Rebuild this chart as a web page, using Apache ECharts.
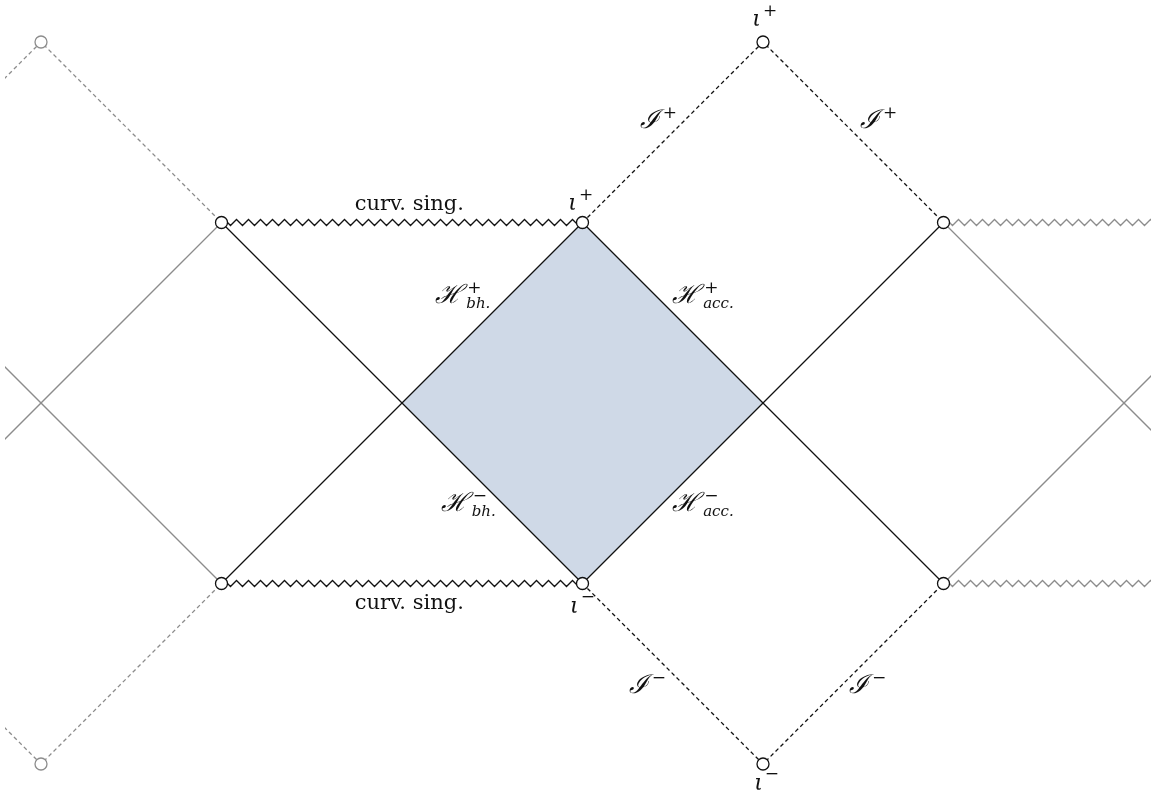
<!DOCTYPE html>
<html>
<head>
<meta charset="utf-8">
<script src="https://cdn.jsdelivr.net/npm/echarts@6/dist/echarts.min.js"></script>
<style>
  html, body { margin: 0; background: #fff; }
  #chart { width: 1151px; height: 793px; }
</style>
</head>
<body>
<div id="chart"></div>
<script>
// diagram coordinates: one unit = one null step, x to the right, y up
const greySolid = [[[1, 1], [-1, -1]], [[1, -1], [-1, 1]], [[5, 1], [7, -1]], [[5, -1], [7, 1]]]
const greyDashed = [[[-1, 1], [0, 2], [1, 1]], [[-1, -1], [0, -2], [1, -1]]]
const blackSolid = [[[1, 1], [3, -1]], [[1, -1], [3, 1]], [[5, 1], [3, -1]], [[5, -1], [3, 1]]]
const blackDashed = [[[3, 1], [4, 2], [5, 1]], [[3, -1], [4, -2], [5, -1]]]
const singBlack = [[1, 1, 3, 1], [1, -1, 3, -1]]
const singGrey = [[5, 1, 7, 1], [5, -1, 7, -1]]
const region = [[2, 0], [3, 1], [4, 0], [3, -1]]
const pointsBlack = [[1, 1], [1, -1], [3, 1], [3, -1], [4, 2], [4, -2], [5, 1], [5, -1]]
const pointsGrey = [[0, 2], [0, -2]]

// labels: x, y (centre), symbol, superscript, subscript
const labels = [
  [2.04, 1.10, 'curv. sing.', '', ''],
  [2.04, -1.11, 'curv. sing.', '', ''],
  [4.01, 2.12, 'ι', '+', ''],
  [2.99, 1.10, 'ι', '+', ''],
  [3.42, 1.56, 'ℐ', '+', ''],
  [4.64, 1.56, 'ℐ', '+', ''],
  [2.34, 0.59, 'ℋ', '+', 'bh.'],
  [3.67, 0.59, 'ℋ', '+', 'acc.'],
  [2.37, -0.56, 'ℋ', '−', 'bh.'],
  [3.67, -0.56, 'ℋ', '−', 'acc.'],
  [3.0, -1.13, 'ι', '−', ''],
  [3.36, -1.57, 'ℐ', '−', ''],
  [4.58, -1.57, 'ℐ', '−', ''],
  [4.02, -2.11, 'ι', '−', '']
]

const GREY = '#8c8c8c'
const BLACK = '#111'
const SERIF = '"DejaVu Serif", "Liberation Serif", serif'

const ctx = document.createElement('canvas').getContext('2d')
const textWidth = (text, font) => { ctx.font = font; return ctx.measureText(text).width }

const lineSeries = (paths, color, dashed) => paths.map(p => ({
  type: 'line',
  data: p,
  symbol: 'none',
  silent: true,
  lineStyle: { color, width: 1.3, type: dashed ? [4, 3] : 'solid' }
}))

const zigzag = color => (params, api) => {
  const a = api.coord([api.value(0), api.value(1)])
  const b = api.coord([api.value(2), api.value(3)])
  const len = Math.hypot(b[0] - a[0], b[1] - a[1])
  const ux = (b[0] - a[0]) / len, uy = (b[1] - a[1]) / len
  const seg = 12, amp = 3
  const pts = [a]
  for (let s = 0; s + seg <= len; s += seg) {
    pts.push([a[0] + ux * (s + seg / 4) + uy * amp, a[1] + uy * (s + seg / 4) - ux * amp])
    pts.push([a[0] + ux * (s + 3 * seg / 4) - uy * amp, a[1] + uy * (s + 3 * seg / 4) + ux * amp])
  }
  return { type: 'polyline', shape: { points: pts }, style: { stroke: color, lineWidth: 1.3, fill: null } }
}

const ring = color => (params, api) => {
  const c = api.coord([api.value(0), api.value(1)])
  return {
    type: 'circle',
    shape: { cx: c[0], cy: c[1], r: 6 },
    style: { fill: '#fff', stroke: color, lineWidth: 1.3 }
  }
}

const renderLabel = (params, api) => {
  const [, , main, sup, sub] = labels[params.dataIndex]
  const c = api.coord([api.value(0), api.value(1)])
  const upright = main.length > 1
  const iota = main === 'ι'
  const mainSize = upright ? 21 : (iota ? 22 : 26)
  const mainFont = `${upright ? 'normal' : 'italic'} ${mainSize}px ${SERIF}`
  const supFont = `normal 17px ${SERIF}`
  const subFont = `italic 15px ${SERIF}`
  const gap = iota ? 2 : 4
  const wMain = textWidth(main, mainFont)
  const wSup = sup ? textWidth(sup, supFont) : 0
  const wSub = sub ? textWidth(sub, subFont) : 0
  const x0 = c[0] - (wMain + (sup ? gap : 0) + Math.max(wSup, wSub)) / 2
  const children = [{
    type: 'text', x: x0, y: c[1],
    style: { text: main, font: mainFont, fill: BLACK, align: 'left', verticalAlign: 'middle' }
  }]
  if (sup) children.push({
    type: 'text', x: x0 + wMain + gap, y: c[1] - (iota ? 9 : 8),
    style: { text: sup, font: supFont, fill: BLACK, align: 'left', verticalAlign: 'middle' }
  })
  if (sub) children.push({
    type: 'text', x: x0 + wMain + gap - 1, y: c[1] + 8,
    style: { text: sub, font: subFont, fill: BLACK, align: 'left', verticalAlign: 'middle' }
  })
  return { type: 'group', children }
}

const chart = echarts.init(document.getElementById('chart'))
chart.setOption({
  animation: false,
  grid: { left: 6, right: 0, top: 5.9, bottom: 0 },
  xAxis: { type: 'value', min: -35 / 180.5, max: 6 + 27 / 180.5, show: false },
  yAxis: { type: 'value', min: -2 - 29 / 180.5, max: 2.2, show: false },
  series: [
    {
      type: 'custom',
      silent: true,
      data: [region.flat()],
      renderItem: (params, api) => ({
        type: 'polygon',
        shape: { points: region.map((_, i) => api.coord([api.value(2 * i), api.value(2 * i + 1)])) },
        style: { fill: '#cfd9e7' }
      })
    },
    ...lineSeries(greySolid, GREY, false),
    ...lineSeries(greyDashed, GREY, true),
    ...lineSeries(blackSolid, BLACK, false),
    ...lineSeries(blackDashed, BLACK, true),
    { type: 'custom', clip: true, silent: true, data: singBlack, renderItem: zigzag(BLACK) },
    { type: 'custom', clip: true, silent: true, data: singGrey, renderItem: zigzag(GREY) },
    { type: 'custom', silent: true, z: 5, data: pointsBlack, renderItem: ring(BLACK) },
    { type: 'custom', silent: true, z: 5, data: pointsGrey, renderItem: ring(GREY) },
    {
      type: 'custom', silent: true, z: 6,
      data: labels.map(l => [l[0], l[1]]),
      renderItem: renderLabel
    }
  ]
})
</script>
</body>
</html>
